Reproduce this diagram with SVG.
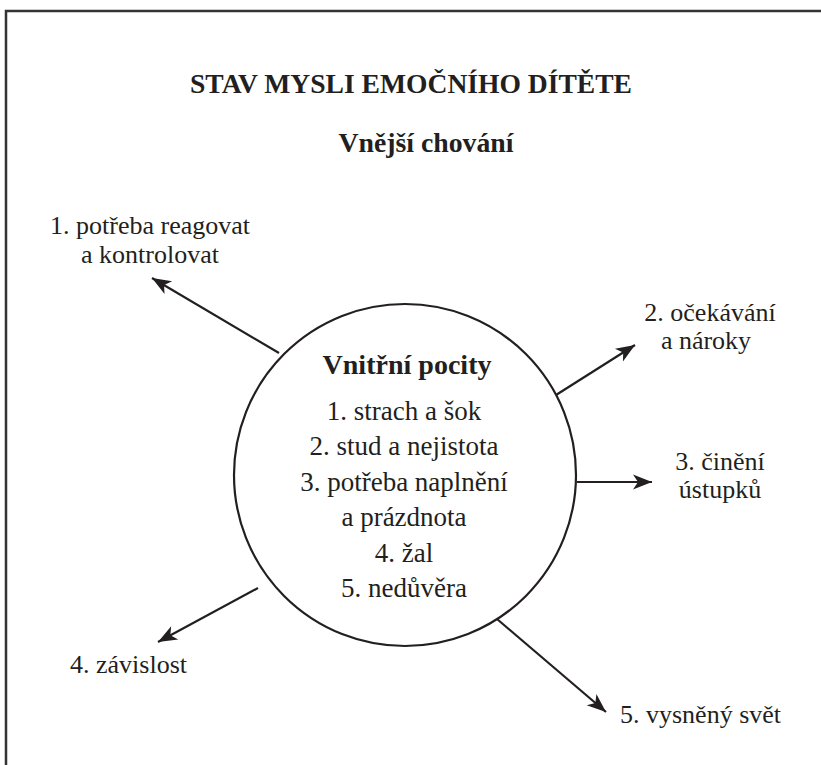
<svg xmlns="http://www.w3.org/2000/svg" width="821" height="765" viewBox="0 0 821 765">
<defs>
<style>
text{font-family:"Liberation Serif","Times New Roman",serif;font-size:27px;fill:#231f20}
.b{font-weight:bold}
.m{text-anchor:middle}
.l{font-size:26px}
.c{stroke:#231f20;stroke-width:2.2;fill:none}
</style>
<marker id="ah" viewBox="-20 -8 22 16" refX="0" refY="0" markerWidth="22" markerHeight="16" markerUnits="userSpaceOnUse" orient="auto">
<path d="M0,0 L-19,-7.5 L-14,0 L-19,7.5 Z" fill="#231f20"/>
</marker>
</defs>
<rect width="821" height="765" fill="#fff"/>
<path d="M6,770 V11 H826" stroke="#333" stroke-width="2.5" fill="none"/>
<g id="title">
<text class="b m" x="411" y="93" font-size="29" textLength="442" lengthAdjust="spacingAndGlyphs">STAV MYSLI EMOČNÍHO DÍTĚTE</text>
</g>
<g id="outer-heading">
<text class="b m" x="426" y="152" font-size="27" textLength="175" lengthAdjust="spacingAndGlyphs">Vnější chování</text>
</g>
<g id="inner">
<circle class="c" cx="405" cy="475" r="171"/>
<text class="b m" x="407" y="374" textLength="169" lengthAdjust="spacingAndGlyphs">Vnitřní pocity</text>
<text class="m" x="404" y="420">1. strach a šok</text>
<text class="m" x="404" y="455">2. stud a nejistota</text>
<text class="m" x="404" y="491">3. potřeba naplnění</text>
<text class="m" x="404" y="526">a prázdnota</text>
<text class="m" x="404" y="562">4. žal</text>
<text class="m" x="404" y="597">5. nedůvěra</text>
</g>
<g id="n1">
<text class="m l" x="150" y="234">1. potřeba reagovat</text>
<text class="m l" x="150" y="263">a kontrolovat</text>
</g>
<g id="n2">
<text class="m l" x="710" y="321">2. očekávání</text>
<text class="m l" x="706" y="349">a nároky</text>
</g>
<g id="n3">
<text class="m l" x="720" y="470">3. činění</text>
<text class="m l" x="720" y="498">ústupků</text>
</g>
<g id="n4">
<text class="l" x="70" y="673">4. závislost</text>
</g>
<g id="n5">
<text class="l" x="620" y="723">5. vysněný svět</text>
</g>
<g id="connectors">
<line class="c" x1="279" y1="353" x2="152" y2="278" marker-end="url(#ah)"/>
<line class="c" x1="556" y1="395" x2="635" y2="345" marker-end="url(#ah)"/>
<line class="c" x1="577" y1="482" x2="652" y2="482" marker-end="url(#ah)"/>
<line class="c" x1="258" y1="588" x2="158" y2="642" marker-end="url(#ah)"/>
<line class="c" x1="497" y1="619" x2="606" y2="712" marker-end="url(#ah)"/>
</g>
</svg>
